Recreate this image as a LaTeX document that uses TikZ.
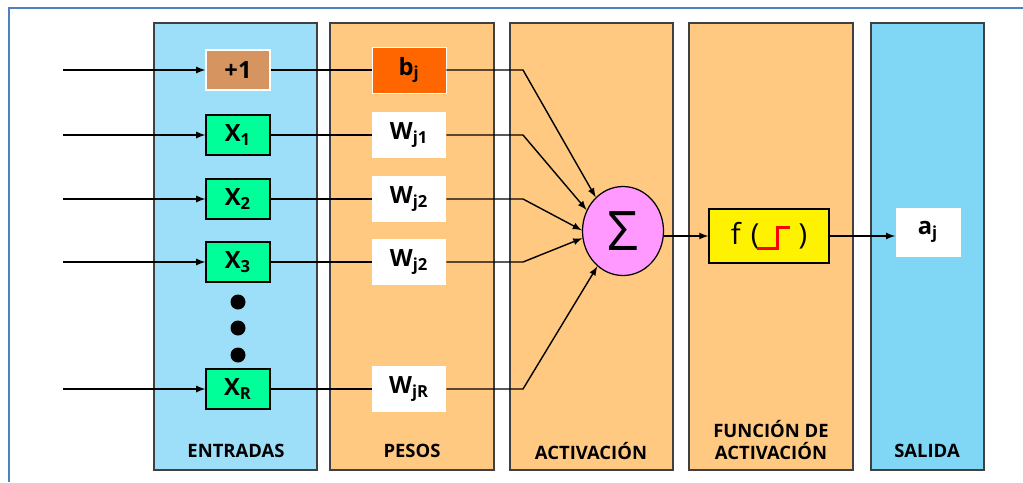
\documentclass[tikz,border=0pt]{standalone}
\usepackage{fontspec}
\setmainfont{Open Sans}
\usetikzlibrary{shapes.geometric}

\definecolor{inblue}{RGB}{157,223,248}
\definecolor{outblue}{RGB}{128,214,245}
\definecolor{panel}{RGB}{255,201,130}
\definecolor{biasbrown}{RGB}{213,148,96}
\definecolor{biasorange}{RGB}{255,102,0}
\definecolor{inputgreen}{RGB}{0,255,153}
\definecolor{sumpink}{RGB}{255,153,255}
\definecolor{frameblue}{RGB}{79,129,189}

\begin{document}
\begin{tikzpicture}[
  x=0.2mm, y=-0.2mm,
  column/.style={draw=black!75,line width=1pt},
  inbox/.style={draw,line width=0.7pt,fill=inputgreen,minimum width=12.8mm,minimum height=8mm,
    inner sep=0pt,font=\bfseries\fontsize{13.5}{15}\selectfont},
  wbox/.style={fill=white,minimum width=14.8mm,minimum height=9.2mm,inner sep=0pt,
    font=\bfseries\fontsize{13.5}{15}\selectfont},
  dot/.style={circle,fill=black,minimum size=3mm,inner sep=0pt},
  caption/.style={font=\bfseries\fontsize{10.5}{13}\selectfont,align=center},
  link/.style={draw,line width=0.8pt},
  arr/.style={link,-latex}
]
  \useasboundingbox (0,0) rectangle (1023,482);
  \draw[frameblue,line width=1.2pt] (9,482) -- (9,8) -- (1023,8);

  % columns
  \draw[column,fill=inblue] (154,23) rectangle (317,470);
  \draw[column,fill=panel] (330,23) rectangle (494,470);
  \draw[column,fill=panel] (510,23) rectangle (673,470);
  \draw[column,fill=panel] (689,23) rectangle (853,470);
  \draw[column,fill=outblue] (871,23) rectangle (984,470);

  \node[caption] (capin) at (236,451) {ENTRADAS};
  \node[caption] (capw) at (412,451) {PESOS};
  \node[caption] (capact) at (591,451) {ACTIVACIÓN};
  \node[caption] (capf) at (771,440) {FUNCIÓN DE\\ACTIVACIÓN};
  \node[caption] (capout) at (927,451) {SALIDA};

  % inputs
  \node[inbox,fill=biasbrown,draw=white] (one) at (238,70) {+1};
  \node[inbox] (x1) at (238,135) {X\textsubscript{1}};
  \node[inbox] (x2) at (238,199) {X\textsubscript{2}};
  \node[inbox] (x3) at (238,262) {X\textsubscript{3}};
  \node[inbox] (xR) at (238,389) {X\textsubscript{R}};
  \node[dot] (d1) at (238,302) {};
  \node[dot] (d2) at (238,328) {};
  \node[dot] (d3) at (238,355) {};

  % weights
  \node[wbox,fill=biasorange,draw=white] (bj) at (409,70) {b\textsubscript{j}};
  \node[wbox] (w1) at (409,135) {W\textsubscript{j1}};
  \node[wbox] (w2) at (409,199) {W\textsubscript{j2}};
  \node[wbox] (w3) at (409,262) {W\textsubscript{j2}};
  \node[wbox] (wR) at (409,389) {W\textsubscript{jR}};

  \node[ellipse,draw,line width=0.7pt,fill=sumpink,minimum width=16.2mm,minimum height=17.8mm,
    inner sep=0pt,font=\fontsize{31}{31}\selectfont] (sum) at (623,231) {Σ};
  \node[draw,line width=0.7pt,fill=yellow,minimum width=24mm,minimum height=10.8mm,
    font=\fontsize{16.5}{17}\selectfont] (fact) at (769,236) {f\hspace{0.35em}(\hspace{1.35em})};
  \draw[red,line width=1.7pt] ([shift={(-12,12)}]fact.center) -- ++(20,0) -- ++(0,-21) -- ++(13,0);
  \node[fill=white,minimum width=13mm,minimum height=9.8mm,
    font=\bfseries\fontsize{13.5}{15}\selectfont] (out) at (928,232) {a\textsubscript{j}};

  % connectors
  \foreach \n/\w/\y in {one/bj/70,x1/w1/135,x2/w2/199,x3/w3/262,xR/wR/389} {
    \coordinate (s-\n) at (63,\y);
    \coordinate (k-\w) at (523,\y);
    \draw[arr] (s-\n) -- (\n);
    \draw[link] (\n) -- (\w);
  }
  \draw[arr] (bj) -- (k-bj) -- (sum.129);
  \draw[arr] (w1) -- (k-w1) -- (sum.150);
  \draw[arr] (w2) -- (k-w2) -- (sum.179);
  \draw[arr] (w3) -- (k-w3) -- (sum.190);
  \draw[arr] (wR) -- (k-wR) -- (sum.234);
  \draw[arr] (sum.east |- fact.west) -- (fact.west);
  \draw[arr] (fact.east) -- (fact.east -| out.west);
\end{tikzpicture}
\end{document}
